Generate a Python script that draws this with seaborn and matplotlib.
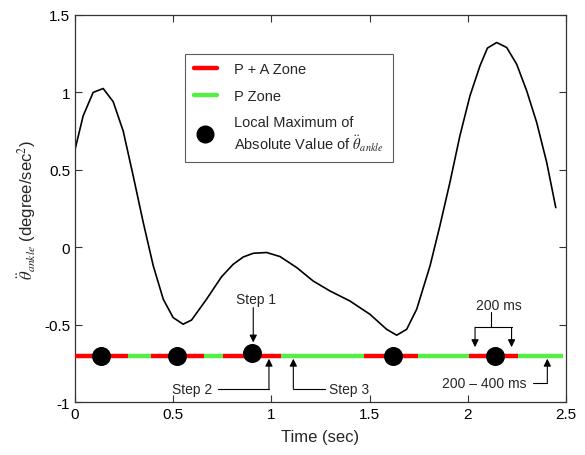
import matplotlib
matplotlib.use("Agg")
import matplotlib.pyplot as plt
import seaborn as sns
import pandas as pd
from matplotlib.lines import Line2D

# ---- data ----
t_curve = [0.0, 0.042, 0.093, 0.144, 0.195, 0.246, 0.297, 0.348, 0.399, 0.45, 0.5, 0.551,
           0.594, 0.67, 0.747, 0.806, 0.857, 0.908, 0.976, 1.044, 1.129, 1.213, 1.298,
           1.40, 1.502, 1.587, 1.638, 1.689, 1.74, 1.808, 1.858, 1.909, 1.96, 2.011,
           2.062, 2.10, 2.147, 2.198, 2.249, 2.30, 2.351, 2.402, 2.448]
acc_curve = [0.627, 0.848, 1.0, 1.025, 0.94, 0.75, 0.46, 0.16, -0.12, -0.336, -0.454, -0.497,
             -0.47, -0.336, -0.19, -0.11, -0.063, -0.039, -0.034, -0.06, -0.131, -0.218, -0.282,
             -0.347, -0.433, -0.53, -0.568, -0.53, -0.40, -0.12, 0.138, 0.418, 0.72, 0.977,
             1.171, 1.286, 1.322, 1.29, 1.182, 1.01, 0.805, 0.547, 0.256]

zone_bounds = [0.0, 0.27, 0.385, 0.657, 0.752, 1.047, 1.47, 1.748, 2.008, 2.257, 2.483]
zone_types = ["PA", "P", "PA", "P", "PA", "P", "PA", "P", "PA", "P"]
zone_level = -0.7

max_t = [0.133, 0.518, 0.903, 1.62, 2.14]
max_y = [-0.7, -0.7, -0.68, -0.7, -0.7]

x_ticks = [0, 0.5, 1, 1.5, 2, 2.5]
x_tick_labels = ["0", "0.5", "1", "1.5", "2", "2.5"]
y_ticks = [-1, -0.5, 0, 0.5, 1, 1.5]
y_tick_labels = ["-1", "-0.5", "0", "0.5", "1", "1.5"]

# ---- style ----
sns.set_theme(style="ticks")
plt.rcParams["font.family"] = ["Liberation Sans", "DejaVu Sans"]
plt.rcParams["mathtext.fontset"] = "stix"
plt.rcParams["axes.unicode_minus"] = False

zone_colors = {"PA": "#ff0000", "P": "#55ee44"}

fig = plt.figure(figsize=(5.85, 4.56), dpi=100)
ax = fig.add_axes([0.128, 0.116, 0.8395, 0.849])

curve_df = pd.DataFrame({"t": t_curve, "acc": acc_curve})
sns.lineplot(data=curve_df, x="t", y="acc", ax=ax, color="black", lw=1.2,
             sort=False, estimator=None)

for i, zt in enumerate(zone_types):
    ax.plot([zone_bounds[i], zone_bounds[i + 1]], [zone_level, zone_level],
            color=zone_colors[zt], lw=3.2, solid_capstyle="butt", zorder=3)

dots_df = pd.DataFrame({"t": max_t, "y": max_y})
sns.scatterplot(data=dots_df, x="t", y="y", ax=ax, color="black", s=160,
                edgecolor="black", zorder=4)

ax.set_xlim(0, 2.5)
ax.set_ylim(-1, 1.5)
ax.set_xticks(x_ticks)
ax.set_xticklabels(x_tick_labels)
ax.set_yticks(y_ticks)
ax.set_yticklabels(y_tick_labels)
ax.tick_params(direction="in", top=True, right=True, labelsize=11, length=5,
               width=0.8, colors="#333333", labelcolor="black")
for s in ax.spines.values():
    s.set_linewidth(0.9)
    s.set_color("#333333")
ax.set_xlabel("Time (sec)", fontsize=12, labelpad=6)
ax.set_ylabel(r"$\ddot{\theta}_{ankle}$ (degree/sec$^2$)", fontsize=12, labelpad=4)

# ---- annotations ----
ap = dict(arrowstyle="-|>", color="black", lw=0.8, mutation_scale=11, shrinkA=0, shrinkB=0)
tfs = 10

ax.text(0.92, -0.336, "Step 1", ha="center", va="center", fontsize=tfs)
ax.annotate("", xy=(0.908, -0.615), xytext=(0.908, -0.39), arrowprops=ap)

ax.text(0.70, -0.913, "Step 2", ha="right", va="center", fontsize=tfs)
ax.plot([0.73, 0.988], [-0.913, -0.913], color="black", lw=0.8)
ax.annotate("", xy=(0.988, -0.72), xytext=(0.988, -0.913), arrowprops=ap)

ax.text(1.295, -0.913, "Step 3", ha="left", va="center", fontsize=tfs)
ax.plot([1.273, 1.112], [-0.913, -0.913], color="black", lw=0.8)
ax.annotate("", xy=(1.112, -0.72), xytext=(1.112, -0.913), arrowprops=ap)

ax.text(2.30, -0.874, "200 \u2013 400 ms", ha="right", va="center", fontsize=tfs)
ax.plot([2.334, 2.405], [-0.874, -0.874], color="black", lw=0.8)
ax.annotate("", xy=(2.405, -0.72), xytext=(2.405, -0.874), arrowprops=ap)

ax.text(2.16, -0.37, "200 ms", ha="center", va="center", fontsize=tfs)
ax.plot([2.118, 2.118], [-0.42, -0.517], color="black", lw=0.8)
ax.plot([2.037, 2.223], [-0.517, -0.517], color="black", lw=0.8)
ax.annotate("", xy=(2.037, -0.645), xytext=(2.037, -0.517), arrowprops=ap)
ax.annotate("", xy=(2.223, -0.645), xytext=(2.223, -0.517), arrowprops=ap)

# ---- legend ----
handles = [
    Line2D([0], [0], color=zone_colors["PA"], lw=3.2),
    Line2D([0], [0], color=zone_colors["P"], lw=3.2),
    Line2D([0], [0], marker="o", color="black", lw=0, markersize=12),
]
labels = ["P + A Zone", "P Zone",
          "Local Maximum of\nAbsolute Value of $\\ddot{\\theta}_{ankle}$"]
leg = ax.legend(handles, labels, loc="upper left", bbox_to_anchor=(0.224, 0.9),
                borderaxespad=0, fontsize=10.5, frameon=True, fancybox=False,
                edgecolor="#333333", handlelength=1.6, labelspacing=0.85,
                borderpad=0.6, handletextpad=1.2)
leg.get_frame().set_linewidth(0.8)

fig.savefig("out.png", dpi=100)
